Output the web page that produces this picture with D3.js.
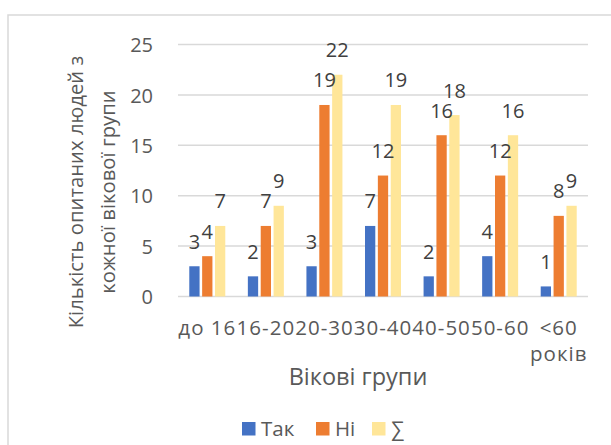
<!DOCTYPE html>
<html>
<head>
<meta charset="utf-8">
<script src="https://cdn.jsdelivr.net/npm/d3@7"></script>
<style>
  html, body { margin: 0; padding: 0; background: #fff; }
  svg { display: block; }
  text { font-family: "Open Sans", sans-serif; }
</style>
</head>
<body>
<svg id="chart" width="611" height="445"></svg>
<script>
const categories = ["до 16", "16-20", "20-30", "30-40", "40-50", "50-60", "<60 років"];
const seriesNames = ["Так", "Ні", "∑"];
const yes = [3, 2, 3, 7, 2, 4, 1];
const no = [4, 7, 19, 12, 16, 12, 8];
const total = [7, 9, 22, 19, 18, 16, 9];
const yTicks = [0, 5, 10, 15, 20, 25];
const colors = ["#4472C4", "#ED7D31", "#FFE699"];
const yTitleLines = ["Кількість опитаних людей з", "кожної вікової групи"];
const xTitle = "Вікові групи";

const FONT = "Open Sans, sans-serif";
const seriesValues = [yes, no, total];
const svg = d3.select("#chart");

// frame
svg.append("rect").attr("x", 8).attr("y", 15).attr("width", 620).attr("height", 460)
  .attr("fill", "none").attr("stroke", "#d9d9d9").attr("stroke-width", 1.5);

const plot = { left: 178, right: 588, top: 44.5, bottom: 296.5 };
const x0 = d3.scaleBand().domain(categories).range([plot.left, plot.right]).padding(0);
const x1 = d3.scaleBand().domain(seriesNames).range([-18, 18]).paddingInner(0.2);
const y = d3.scaleLinear().domain([0, 25]).range([plot.bottom, plot.top]);

// gridlines
svg.append("g").selectAll("line").data(yTicks).join("line")
  .attr("x1", plot.left).attr("x2", plot.right)
  .attr("y1", d => y(d)).attr("y2", d => y(d))
  .attr("stroke", "#d9d9d9").attr("stroke-width", 1.5);

// y axis labels
const yAxis = d3.axisLeft(y).tickValues(yTicks).tickSize(0).tickPadding(0);
const yg = svg.append("g").attr("transform", "translate(153,0)").call(yAxis);
yg.select(".domain").remove();
yg.attr("font-family", FONT).attr("font-size", 20);
yg.selectAll("text").attr("fill", "#595959").attr("dy", "0.36em");

// bars
const data = [];
categories.forEach((c, i) => {
  seriesNames.forEach((s, j) => data.push({ cat: c, ser: s, val: seriesValues[j][i], idx: j }));
});
const cx = d => x0(d.cat) + x0.bandwidth() / 2 + x1(d.ser);
svg.append("g").selectAll("rect").data(data).join("rect")
  .attr("x", d => cx(d))
  .attr("y", d => y(d.val))
  .attr("width", x1.bandwidth())
  .attr("height", d => y(0) - y(d.val))
  .attr("fill", d => colors[d.idx]);

// data labels
svg.append("g").selectAll("text").data(data).join("text")
  .attr("x", d => cx(d) + x1.bandwidth() / 2)
  .attr("y", d => y(d.val) - 17.5)
  .attr("text-anchor", "middle")
  .attr("font-size", 20).attr("fill", "#404040")
  .text(d => d.val);

// x axis labels
const xAxis = d3.axisBottom(x0).tickSize(0).tickPadding(0);
const xg = svg.append("g").attr("transform", "translate(0,321)").call(xAxis);
xg.select(".domain").remove();
xg.attr("font-family", FONT).attr("font-size", 20.5);
xg.selectAll("text").each(function(d) {
  const t = d3.select(this);
  t.text(null).attr("fill", "#595959").attr("dy", null).attr("y", 0)
    .attr("letter-spacing", 1);
  const lines = (d === "<60 років") ? d.split(" ") : [d];
  lines.forEach((ln, k) => {
    t.append("tspan").attr("x", 0).attr("y", 14 + k * 26).text(ln);
  });
});

// x title
svg.append("text").attr("x", 358).attr("y", 385).attr("text-anchor", "middle")
  .attr("font-size", 23.5).attr("fill", "#595959").text(xTitle);

// y title
const yt = svg.append("text").attr("transform", "translate(0,192) rotate(-90)")
  .attr("text-anchor", "middle").attr("font-size", 20.3).attr("fill", "#595959");
yTitleLines.forEach((ln, k) => {
  yt.append("tspan").attr("x", 0).attr("y", 83 + k * 32).text(ln);
});

// legend
const legendX = [242, 316, 372];
const lg = svg.append("g");
seriesNames.forEach((s, j) => {
  lg.append("rect").attr("x", legendX[j]).attr("y", 422).attr("width", 13.5).attr("height", 13.5)
    .attr("fill", colors[j]);
  lg.append("text").attr("x", legendX[j] + 19).attr("y", 436)
    .attr("font-size", 20.5).attr("fill", "#595959").text(s);
});
</script>
</body>
</html>
